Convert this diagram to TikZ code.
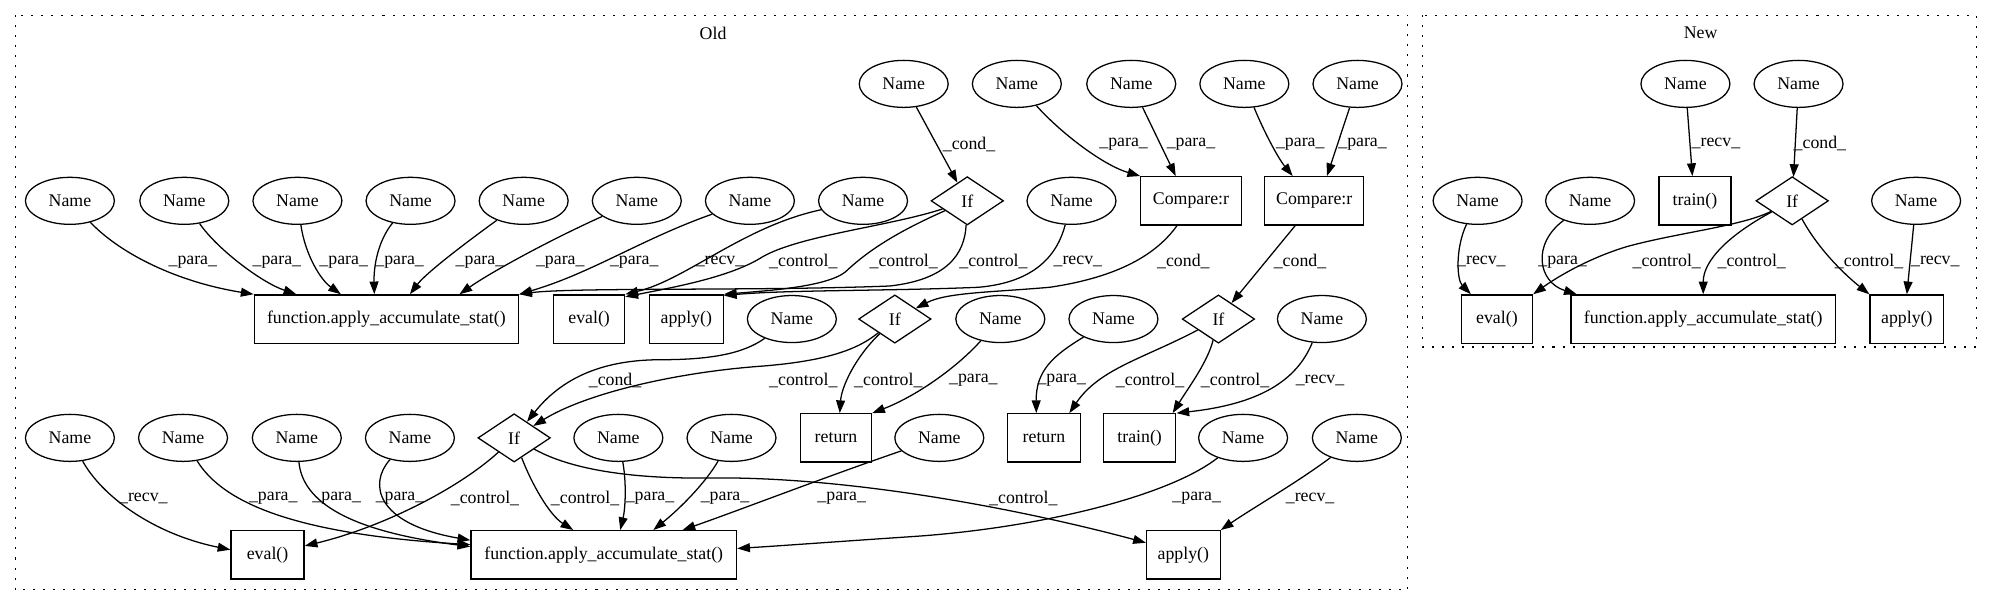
\documentclass[tikz,border=0pt]{standalone}
\usepackage{fontspec}
\setmainfont{Liberation Serif}
\usetikzlibrary{shapes.geometric,arrows.meta}
\newcommand\Lpara{\_para\_}
\newcommand\Lrecv{\_recv\_}
\newcommand\Lctrl{\_control\_}
\newcommand\Lcond{\_cond\_}
\begin{document}
\begin{tikzpicture}[x=1pt,y=-1pt,font=\fontsize{14}{16}\selectfont,
  nm/.style={ellipse,draw,line width=1pt,minimum width=70pt,minimum height=37pt,inner sep=0pt},
  bx/.style={rectangle,draw,line width=1pt,minimum height=38pt,inner sep=0pt},
  dm/.style={diamond,draw,line width=1pt,minimum width=57pt,minimum height=38pt,inner sep=0pt},
  edg/.style={line width=1pt,-{Triangle[length=10pt,width=7pt]}},
  elab/.style={inner sep=0pt},
  clu/.style={line width=1pt,dash pattern=on 1.6pt off 6.3pt}]
\useasboundingbox (0,0) rectangle (1568,477);
% clusters
\draw[clu] (12,12) rectangle (1107.5,464);
\node (oldt) at (561,26) {Old};
\draw[clu] (1119,12) rectangle (1555,273);
\node (newt) at (1338,26) {New};
% ---------- Old nodes ----------
\node[nm] (n01) at (711,66) {Name};
\node[nm] (n02) at (800,66) {Name};
\node[nm] (n03) at (890,66) {Name};
\node[nm] (n04) at (979,66) {Name};
\node[nm] (n05) at (1068,66) {Name};
\node[nm] (n11) at (55,158) {Name};
\node[nm] (n12) at (145,158) {Name};
\node[nm] (n13) at (234,158) {Name};
\node[nm] (n14) at (323,158) {Name};
\node[nm] (n15) at (412,158) {Name};
\node[nm] (n16) at (501,158) {Name};
\node[nm] (n17) at (590,158) {Name};
\node[nm] (n18) at (679,158) {Name};
\node[dm] (if1) at (761,158) {If};
\node[nm] (n19) at (843,158) {Name};
\node[bx,minimum width=79pt] (cmp1) at (937,158) {Compare:r};
\node[bx,minimum width=78pt] (cmp2) at (1034,158) {Compare:r};
\node[bx,minimum width=208pt] (func1) at (304,251) {function.apply\_accumulate\_stat()};
\node[bx,minimum width=56pt] (eval1) at (463.5,251) {eval()};
\node[bx,minimum width=58pt] (apply1) at (540,251) {apply()};
\node[nm] (n21) at (623,251) {Name};
\node[dm] (if2) at (704,251) {If};
\node[nm] (n22) at (787,251) {Name};
\node[nm] (n23) at (876,251) {Name};
\node[dm] (if3) at (958.6,251) {If};
\node[nm] (n24) at (1040,251) {Name};
\node[nm] (n31) at (55,344.5) {Name};
\node[nm] (n32) at (144,344.5) {Name};
\node[nm] (n33) at (233.5,344.5) {Name};
\node[nm] (n34) at (322.5,344.5) {Name};
\node[dm] (if4) at (404.5,344.5) {If};
\node[nm] (n35) at (486.5,344.5) {Name};
\node[nm] (n36) at (575.5,344.5) {Name};
\node[bx,minimum width=56pt] (ret1) at (657.7,344.5) {return};
\node[nm] (n37) at (739,344.5) {Name};
\node[bx,minimum width=57pt] (ret2) at (821.3,344.5) {return};
\node[bx,minimum width=57pt] (tr1) at (896.6,344.5) {train()};
\node[nm] (n38) at (978,344.5) {Name};
\node[nm] (n39) at (1067.5,344.5) {Name};
\node[bx,minimum width=57.5pt] (eval2) at (210.5,436.5) {eval()};
\node[bx,minimum width=209pt] (func2) at (475,436.5) {function.apply\_accumulate\_stat()};
\node[bx,minimum width=58pt] (apply2) at (931,436.5) {apply()};
% ---------- New nodes ----------
\node[nm] (m01) at (1326,66) {Name};
\node[nm] (m02) at (1415,66) {Name};
\node[nm] (m11) at (1162.5,158) {Name};
\node[nm] (m12) at (1251,158) {Name};
\node[bx,minimum width=56.5pt] (tr2) at (1333.5,158) {train()};
\node[dm] (ifN) at (1410,158) {If};
\node[nm] (m13) at (1507.5,158) {Name};
\node[bx,minimum width=56pt] (eval3) at (1177.7,251) {eval()};
\node[bx,minimum width=208pt] (func3) at (1340,251) {function.apply\_accumulate\_stat()};
\node[bx,minimum width=58pt] (apply3) at (1500.2,251) {apply()};
% ---------- Old edges R0->R1 ----------
\draw[edg] (n01) -- (if1);
\draw[edg] (n02) .. controls (835,105) and (868,130) .. (cmp1.north west);
\draw[edg] (n03) -- ([xshift=-12pt]cmp1.north);
\draw[edg] (n04) .. controls (995,105) and (1006,125) .. ([xshift=-17pt]cmp2.north);
\draw[edg] (n05) -- ([xshift=10pt]cmp2.north);
% ---------- Old edges R1->R2 ----------
\draw[edg] (n11) .. controls (95,200) and (140,222) .. (func1.north west);
\draw[edg] (n12) .. controls (170,195) and (205,222) .. ([xshift=33.6pt]func1.north west);
\draw[edg] (n13) .. controls (240,200) and (252,220) .. ([xshift=68.7pt]func1.north west);
\draw[edg] (n14) .. controls (297,190) and (294,210) .. ([xshift=95pt]func1.north west);
\draw[edg] (n15) .. controls (365,192) and (335,215) .. ([xshift=123pt]func1.north west);
\draw[edg] (n16) .. controls (430,190) and (385,215) .. ([xshift=162pt]func1.north west);
\draw[edg] (n17) .. controls (505,188) and (465,215) .. (func1.north east);
\draw[edg] (n18) .. controls (585,178) and (540,220) .. (eval1.north east);
\draw[edg] (if1) .. controls (700,178) and (630,185) .. (600,202) .. controls (575,218) and (530,226) .. ([yshift=-2pt]eval1.north east);
\draw[edg] (if1) .. controls (700,185) and (680,200) .. (665,214) .. controls (650,226) and (600,229) .. (apply1.north east);
\draw[edg] (if1) .. controls (759,200) and (745,220) .. (700,225) .. controls (600,229) and (450,226) .. (func1.north east);
\draw[edg] (n19) .. controls (832,200) and (815,222) .. (770,226) .. controls (700,229) and (620,228) .. ([yshift=-1pt]apply1.north east);
\draw[edg] ([xshift=-11pt]cmp1.south) .. controls (910,200) and (880,218) .. (826,226) .. controls (780,230) and (745,230) .. (if2);
\draw[edg] ([xshift=-15pt]cmp2.south) -- (if3);
% ---------- Old edges R2->R3 ----------
\draw[edg] (n21) .. controls (585,278) and (560,283) .. (520,283) .. controls (470,283) and (440,300) .. (if4);
\draw[edg] (if2) .. controls (675,275) and (650,284) .. (600,288) .. controls (530,293) and (460,310) .. (if4);
\draw[edg] (if2) .. controls (672,282) and (662,305) .. ([xshift=3pt]ret1.north);
\draw[edg] (n22) .. controls (752,290) and (720,312) .. (ret1.north east);
\draw[edg] (n23) .. controls (828,280) and (815,292) .. ([xshift=-6pt]ret2.north);
\draw[edg] (if3) .. controls (900,282) and (865,290) .. ([xshift=-9pt]ret2.north east);
\draw[edg] (if3) .. controls (950,285) and (935,305) .. ([xshift=-3pt]tr1.north east);
\draw[edg] (n24) .. controls (1020,300) and (990,318) .. (tr1.north east);
% ---------- Old edges R3->R4 ----------
\draw[edg] (n31) .. controls (80,390) and (120,420) .. ([yshift=4pt]eval2.west);
\draw[edg] (n32) .. controls (175,395) and (230,420) .. ([yshift=8pt]func2.west);
\draw[edg] (n33) .. controls (238,395) and (275,418) .. ([yshift=6.5pt]func2.west);
\draw[edg] (n34) .. controls (290,380) and (295,412) .. ([yshift=11.5pt]func2.west);
\draw[edg] (if4) .. controls (360,385) and (300,415) .. ([yshift=7pt]eval2.east);
\draw[edg] (if4) .. controls (418,380) and (432,405) .. ([xshift=81pt]func2.north west);
\draw[edg] (n35) .. controls (493,380) and (492,400) .. ([xshift=118pt]func2.north west);
\draw[edg] (n36) .. controls (555,380) and (535,400) .. ([xshift=144pt]func2.north west);
\draw[edg] (n37) .. controls (650,375) and (580,402) .. ([xshift=167pt]func2.north west);
\draw[edg] (n38) .. controls (920,390) and (820,415) .. (720,422) .. controls (660,426) and (620,429) .. ([yshift=5pt]func2.east);
\draw[edg] (if4) .. controls (450,370) and (500,377) .. (560,376) .. controls (680,375) and (820,405) .. ([yshift=9.5pt]apply2.west);
\draw[edg] (n39) .. controls (1020,380) and (985,400) .. (apply2.north east);
% ---------- New edges ----------
\draw[edg] (m01) -- ([xshift=-2pt]tr2.north);
\draw[edg] (m02) -- (ifN);
\draw[edg] (m11) .. controls (1145,195) and (1146,220) .. ([xshift=8pt]eval3.north west);
\draw[edg] (m12) .. controls (1205,192) and (1210,222) .. ([xshift=5pt]func3.north west);
\draw[edg] (ifN) .. controls (1370,178) and (1320,183) .. (1280,194) .. controls (1250,203) and (1225,218) .. (eval3.north east);
\draw[edg] (ifN) .. controls (1360,185) and (1340,205) .. (func3.north);
\draw[edg] (ifN) .. controls (1430,195) and (1450,215) .. (apply3.north west);
\draw[edg] (m13) -- (apply3.north);
% ---------- labels ----------
\node[elab] (a1) at (762.4,113.3) {\Lcond};
\node[elab] (a2) at (884,113.3) {\Lpara};
\node[elab] (a3) at (937,113.3) {\Lpara};
\node[elab] (a4) at (1023,113.3) {\Lpara};
\node[elab] (a5) at (1072,113.3) {\Lpara};
\node[elab] (b1) at (151.7,206) {\Lpara};
\node[elab] (b2) at (217.8,206) {\Lpara};
\node[elab] (b3) at (270.4,206) {\Lpara};
\node[elab] (b4) at (314.4,206) {\Lpara};
\node[elab] (b5) at (377.6,206) {\Lpara};
\node[elab] (b6) at (440.8,206) {\Lpara};
\node[elab] (b7) at (499,206) {\Lpara};
\node[elab] (b8) at (566.5,206) {\Lrecv};
\node[elab] (b9) at (632,206) {\Lctrl};
\node[elab] (b10) at (711,206) {\Lctrl};
\node[elab] (b11) at (781.6,206) {\Lctrl};
\node[elab] (b12) at (848,206) {\Lrecv};
\node[elab] (b13) at (931,206) {\Lcond};
\node[elab] (b14) at (1022.8,206) {\Lcond};
\node[elab] (c1) at (483.9,299) {\Lcond};
\node[elab] (c2) at (632,299) {\Lctrl};
\node[elab] (c3) at (698.9,299) {\Lctrl};
\node[elab] (c4) at (765.8,299) {\Lpara};
\node[elab] (c5) at (835.3,299) {\Lpara};
\node[elab] (c6) at (904.8,299) {\Lctrl};
\node[elab] (c7) at (971.7,299) {\Lctrl};
\node[elab] (c8) at (1038.5,299) {\Lrecv};
\node[elab] (d1) at (112.8,392) {\Lrecv};
\node[elab] (d2) at (215,392) {\Lpara};
\node[elab] (d3) at (264.9,392) {\Lpara};
\node[elab] (d4) at (314.7,392) {\Lpara};
\node[elab] (d5) at (381.6,392) {\Lctrl};
\node[elab] (d6) at (460.3,392) {\Lctrl};
\node[elab] (d7) at (511.4,392) {\Lpara};
\node[elab] (d8) at (570.4,392) {\Lpara};
\node[elab] (d9) at (662.2,392) {\Lpara};
\node[elab] (d10) at (805.1,392) {\Lctrl};
\node[elab] (d11) at (941.5,392) {\Lpara};
\node[elab] (d12) at (1030.7,392) {\Lrecv};
\node[elab] (e1) at (1350,112.8) {\Lrecv};
\node[elab] (e2) at (1431.8,112.8) {\Lcond};
\node[elab] (f1) at (1165.5,206) {\Lrecv};
\node[elab] (f2) at (1229.4,206) {\Lpara};
\node[elab] (f3) at (1311.3,206) {\Lctrl};
\node[elab] (f4) at (1378.2,206) {\Lctrl};
\node[elab] (f5) at (1470.5,206) {\Lctrl};
\node[elab] (f6) at (1522.6,206) {\Lrecv};
\end{tikzpicture}
\end{document}
